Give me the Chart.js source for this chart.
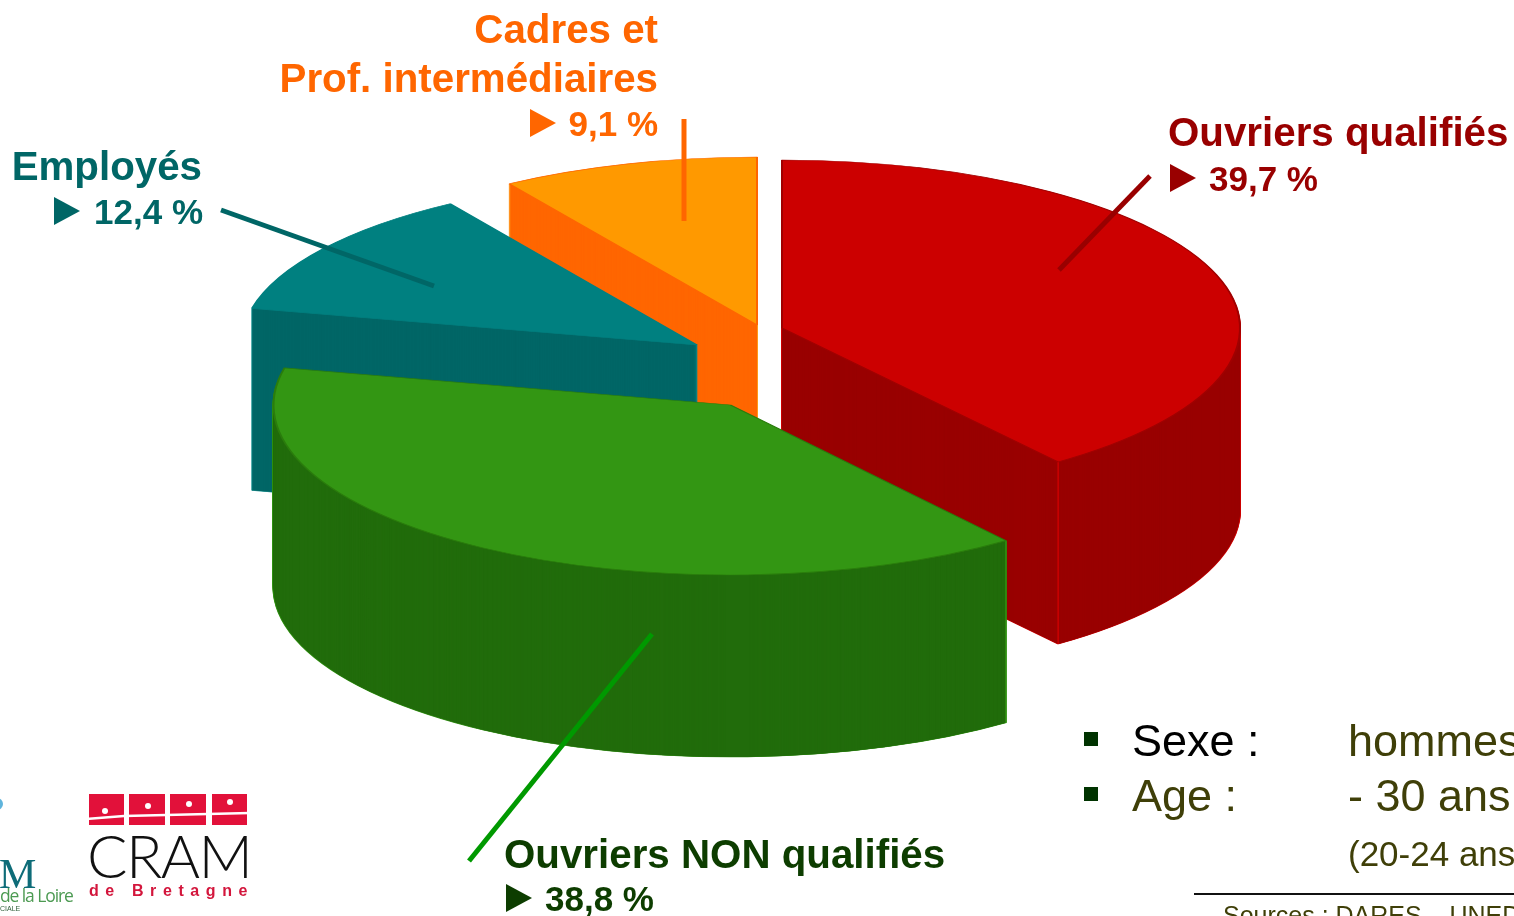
<!DOCTYPE html>
<html lang="fr">
<head>
<meta charset="utf-8">
<title>Répartition par catégorie socioprofessionnelle</title>
<script src="https://cdn.jsdelivr.net/npm/chart.js@4/dist/chart.umd.min.js"></script>
<style>
  html,body{margin:0;padding:0;background:#fff;overflow:hidden}
  #stage{position:relative;width:1514px;height:916px;overflow:hidden;font-family:"Liberation Sans",Arial,sans-serif}
  canvas{position:absolute;left:0;top:0}
  .t{position:absolute;white-space:pre;line-height:1}
  .b{font-weight:bold;font-size:40.3px}
  .tri{position:absolute;width:0;height:0;border-style:solid;border-color:transparent;border-width:14.5px 0 14.5px 26px}
  .sq{position:absolute;width:14px;height:14px;background:#003300}
  svg{position:absolute;left:0;top:0}
</style>
</head>
<body>
<div id="stage">
  <canvas id="c" width="1514" height="916"></canvas>
  <div id="labels"></div>
  <div class="sq" style="left:1084px;top:732px"></div>
  <div class="sq" style="left:1084px;top:787px"></div>
  <div class="t" style="left:1132px;top:718px;font-size:45px;color:#000">Sexe :</div>
  <div class="t" style="left:1348px;top:718px;font-size:45px;color:#3f3f08">hommes</div>
  <div class="t" style="left:1132px;top:773px;font-size:45px;color:#3f3f08">Age :</div>
  <div class="t" style="left:1348px;top:773px;font-size:45px;color:#3f3f08">- 30 ans</div>
  <div class="t" style="left:1348px;top:836px;font-size:35px;color:#3f3f08">(20-24 ans</div>
  <div style="position:absolute;left:1194px;top:893px;width:320px;height:2px;background:#111"></div>
  <div class="t" style="left:1223px;top:903px;font-size:25px;color:#3f3f08">Sources : DARES – UNEDIC</div>

  <svg width="300" height="916" viewBox="0 0 300 916">
    <circle cx="-3" cy="804" r="6" fill="#5fb4dc"/>
    <g fill="#e2113a">
      <rect x="89" y="794" width="35" height="31"/><rect x="129" y="794" width="36" height="31"/>
      <rect x="170" y="794" width="36" height="31"/><rect x="212" y="794" width="35" height="31"/>
    </g>
    <path d="M86 819 L124 816 L250 813" stroke="#fff" stroke-width="2.5" fill="none"/>
    <g fill="#fff">
      <circle cx="105" cy="811" r="3"/><circle cx="148" cy="806" r="3"/>
      <circle cx="189" cy="804" r="3"/><circle cx="230" cy="802" r="3"/>
    </g>
  </svg>
  <div class="t" style="left:87px;top:825px;font-family:Lato,sans-serif;font-weight:300;font-size:60px;letter-spacing:-1.6px;color:#111">CRAM</div>
  <div class="t" style="left:89px;top:883px;font-weight:bold;font-size:16px;letter-spacing:6.6px;color:#d3163c">de Bretagne</div>
  <div class="t" style="left:-1px;top:853px;font-family:'Liberation Serif',serif;font-size:42px;color:#0e6c78">M</div>
  <div class="t" style="left:0;top:887px;font-family:'Open Sans',sans-serif;font-size:17.5px;letter-spacing:-1.1px;color:#4c9a52">de la Loire</div>
  <div class="t" style="left:0;top:905px;font-size:7px;color:#2f5f3a">CIALE</div>
</div>
<script>
// ---- data ----
const categories = ['Ouvriers qualifiés', 'Ouvriers NON qualifiés', 'Employés', 'Cadres et\nProf. intermédiaires'];
const shares = [39.7, 38.8, 12.4, 9.1];

// ---- styling ----
const topColors  = ['#cc0000', '#339613', '#008080', '#ff9900'];
const wallColors = ['#990000', '#216c0b', '#006666', '#ff6600'];
const edgeColors = ['#cc0000', '#2f9010', '#0a8a8a', '#ff9a1a'];
const topEdges   = ['#a00000', '#2a7c0c', '#008080', '#ff6600'];
const textColors = ['#990000', '#0d3d00', '#006666', '#ff6600'];
// where each exploded slice's tip sits on the page, and paint order
const tipX = [782, 730.5, 697, 757];
const tipY = [328, 405, 345, 325];
const radiusX = [458, 457, 456, 458];
const radiusY = [168, 170, 168, 168];
const paintOrder = [3, 2, 0, 1];
const depth = 182;
// leader lines  [x1,y1,x2,y2]
const leaders = [[1150,176,1059,270],[652,634,469,861],[221,210,434,286],[684,119,684,221]];
const leaderColors = ['#990000', '#009900', '#006666', '#ff6600'];
// text blocks
const labelBoxes = [
  {left:1168, top:113, valueTop:161, triX:1170, triY:164, valueX:1209},
  {left:504,  top:835, valueTop:881, triX:506,  triY:884, valueX:545},
  {right:1312, top:147, valueTop:194, triX:54, triY:197, valueRight:1311},
  {right:856, top:10, lineGap:49, valueTop:106, triX:530, triY:109, valueRight:856}
];

const fmt = v => String(v).replace('.', ',') + ' %';

const holder = document.getElementById('labels');
categories.forEach((name, i) => {
  const b = labelBoxes[i], col = textColors[i];
  name.split('\n').forEach((line, n) => {
    const d = document.createElement('div');
    d.className = 't b'; d.textContent = line; d.style.color = col;
    d.style.top = (b.top + n * (b.lineGap || 0)) + 'px';
    if (b.left !== undefined) d.style.left = b.left + 'px'; else d.style.right = b.right + 'px';
    holder.appendChild(d);
  });
  const v = document.createElement('div');
  v.className = 't b'; v.textContent = fmt(shares[i]); v.style.color = col; v.style.fontSize = '35px';
  v.style.top = b.valueTop + 'px';
  if (b.valueX !== undefined) v.style.left = b.valueX + 'px'; else v.style.right = b.valueRight + 'px';
  holder.appendChild(v);
  const t = document.createElement('div');
  t.className = 'tri'; t.style.left = b.triX + 'px'; t.style.top = b.triY + 'px'; t.style.borderLeftColor = col;
  holder.appendChild(t);
});

const slab3d = {
  id: 'slab3d',
  beforeDatasetsDraw(chart) {
    const ctx = chart.ctx, arcs = chart.getDatasetMeta(0).data;
    const paint = (el, i, drop, opts) => {
      const base = el.options;
      el.options = Object.assign({}, base, opts);
      ctx.save();
      ctx.translate(tipX[i], tipY[i] + drop);
      ctx.scale(radiusX[i] / el.outerRadius, radiusY[i] / el.outerRadius);
      ctx.translate(-el.x, -el.y);
      el.draw(ctx);
      ctx.restore();
      el.options = base;
    };
    paintOrder.forEach(i => {
      const el = arcs[i];
      // first pass leaves a thin light outline round the silhouette, second pass fills the wall
      for (let drop = depth; drop > 0; drop--) {
        paint(el, i, drop, {backgroundColor: wallColors[i], borderColor: edgeColors[i], borderWidth: 2});
      }
      for (let drop = depth; drop > 0; drop--) {
        paint(el, i, drop, {backgroundColor: wallColors[i], borderWidth: 0});
      }
      [el.startAngle, el.endAngle].forEach(a => {
        if (Math.sin(a) > 0.05) {
          const x = tipX[i] + radiusX[i] * Math.cos(a), y = tipY[i] + radiusY[i] * Math.sin(a);
          ctx.save(); ctx.strokeStyle = edgeColors[i]; ctx.lineWidth = 1.5;
          ctx.beginPath(); ctx.moveTo(x, y); ctx.lineTo(x, y + depth); ctx.stroke(); ctx.restore();
        }
      });
      paint(el, i, 0, {backgroundColor: topColors[i], borderColor: topEdges[i], borderWidth: 2});
    });
    return false;
  },
  afterDraw(chart) {
    const ctx = chart.ctx;
    leaders.forEach((l, i) => {
      ctx.save(); ctx.strokeStyle = leaderColors[i]; ctx.lineWidth = 5;
      ctx.beginPath(); ctx.moveTo(l[0], l[1]); ctx.lineTo(l[2], l[3]); ctx.stroke(); ctx.restore();
    });
  }
};

new Chart(document.getElementById('c'), {
  type: 'pie',
  data: {
    labels: categories,
    datasets: [{ data: shares, backgroundColor: topColors, borderWidth: 0 }]
  },
  options: {
    responsive: false,
    animation: false,
    rotation: 0,
    layout: { padding: 0 },
    plugins: { legend: { display: false }, tooltip: { enabled: false }, title: { display: false } }
  },
  plugins: [slab3d]
});
</script>
</body>
</html>
